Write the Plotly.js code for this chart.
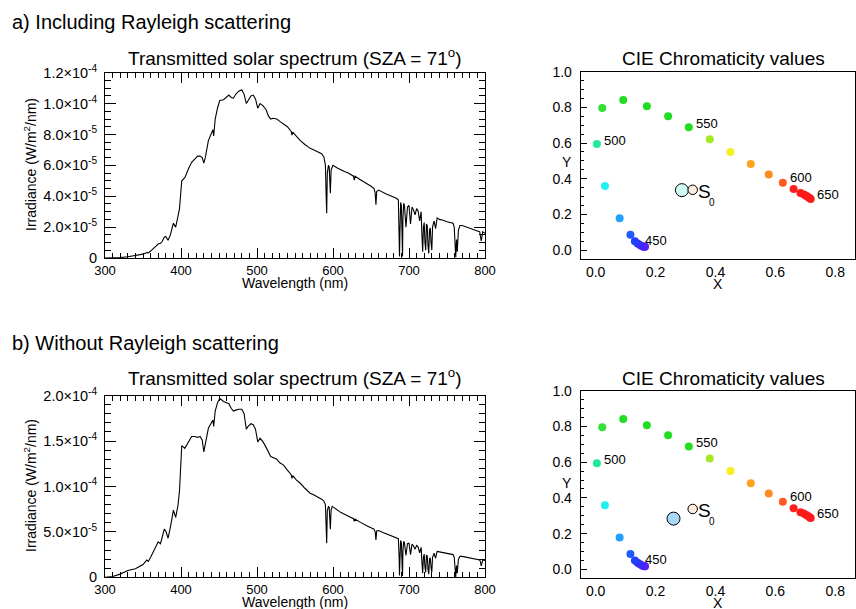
<!DOCTYPE html>
<html>
<head>
<meta charset="utf-8">
<script src="https://cdn.plot.ly/plotly-3.0.1.min.js"></script>
<style>html,body{margin:0;padding:0;background:#fff;}#plot{width:856px;height:609px;}</style>
</head>
<body>
<div id="plot"></div>
<script>
// ---- Spectrum data (irradiance in units of 1e-5 W/m2/nm) ----
const wavelength = [300,310,320,330,340,350,355,357,360,365,370,373,375,378,380,383,386,390,393,396,398,401,405,410,414,418,422,425,428,430,432,436,440,442,443,445,448,451,456,460,463,466,469,472,476,480,483,486,488,492,495,498,501,504,508,512,515,518,521,526,530,535,540,545,546,547,552,557,563,570,575,580,585,588,590,591,591.7,592.5,594,595,596.5,597.5,599,600,605,610,615,620,625,627,628,629,635,640,645,650,654,655.5,656.5,657.5,660,665,670,675,680,684,686,687,687.5,688,689,690,691,691.5,692,693,694,696,698,700,702,704,706,708,710,712,714,716,717,718,719,720,721,722,723,724,725,726,727,728,729,730,731,732,733,735,737,740,745,750,755,758,759.5,760.5,761.5,762.5,763.5,765,767,770,775,780,785,790,793,794,795,796,797,800];

const irrWithRayleigh = [0,0.01,0.03,0.08,0.15,0.25,0.35,0.33,0.45,0.7,0.9,0.95,1.05,1.35,1.4,1.15,1.5,2.25,2.0,2.7,3.2,5.0,5.2,5.8,6.2,6.4,6.6,6.6,6.5,6.15,6.5,7.6,8.1,8.3,7.9,9.0,9.7,10.2,10.25,10.45,10.55,10.4,10.35,10.6,10.8,10.9,10.6,10.0,10.2,10.5,10.55,10.3,9.7,10.0,9.85,9.6,9.2,9.0,9.05,9.0,8.85,8.7,8.5,8.2,7.95,8.15,7.85,7.6,7.35,7.1,7.0,6.9,6.75,6.55,6.0,4.0,2.9,5.5,6.0,5.9,4.2,5.7,6.0,6.0,5.85,5.7,5.6,5.5,5.35,5.3,5.05,5.3,5.1,4.95,4.85,4.65,4.5,4.2,3.45,4.3,4.4,4.25,4.15,4.05,3.95,3.85,3.75,2.0,0.1,1.5,3.6,3.4,1.0,0.1,2.5,3.55,3.4,2.0,3.3,3.4,2.2,3.3,3.1,2.8,3.2,3.05,2.4,3.0,1.5,0.4,2.0,2.3,1.0,0.5,2.2,2.1,0.8,0.3,1.8,1.95,1.0,0.5,2.0,2.3,2.4,1.9,2.6,2.5,2.45,2.35,2.3,2.25,2.0,0.5,0.05,1.2,0.4,1.8,2.1,2.1,2.0,1.9,1.85,1.75,1.7,1.5,1.1,1.4,1.7,1.6];

const irrWithoutRayleigh = [0,0.08,0.35,0.75,0.95,1.4,1.9,1.75,2.2,3.0,3.9,3.7,4.3,5.3,5.1,4.3,5.5,7.4,6.6,7.9,9.5,14.5,14.2,15.0,15.5,15.5,15.4,15.5,15.1,13.8,14.6,16.4,17.0,17.3,16.6,18.3,19.2,19.7,19.35,19.2,19.1,18.6,18.3,18.4,18.5,18.5,18.0,16.3,16.6,16.9,16.8,16.3,14.9,15.3,14.9,14.3,13.7,13.3,13.2,13.0,12.6,12.35,11.8,11.3,10.9,11.2,10.7,10.35,9.8,9.25,9.05,8.85,8.6,8.4,8.0,5.5,3.75,7.3,7.8,7.7,5.3,7.4,7.8,7.75,7.4,7.15,6.95,6.75,6.55,6.45,6.15,6.4,6.1,5.85,5.65,5.45,5.3,5.0,4.1,5.1,5.15,4.95,4.8,4.65,4.5,4.35,4.25,2.3,0.2,1.7,4.05,3.8,1.1,0.15,2.8,3.95,3.8,2.4,3.7,3.75,2.5,3.65,3.45,3.1,3.5,3.35,2.7,3.3,1.7,0.45,2.2,2.55,1.1,0.55,2.45,2.35,0.9,0.35,2.0,2.15,1.1,0.55,2.2,2.55,2.65,2.1,2.85,2.8,2.72,2.62,2.55,2.5,2.2,0.55,0.05,1.3,0.45,2.0,2.3,2.3,2.2,2.1,2.05,1.98,1.9,1.7,1.25,1.55,1.9,1.85];

// ---- Tick labels ----
const wlTicks = [300,400,500,600,700,800];
const irrTicksA = [0,2,4,6,8,10,12];
const irrTextA = ['0','2.0×10<sup>-5</sup>','4.0×10<sup>-5</sup>','6.0×10<sup>-5</sup>','8.0×10<sup>-5</sup>','1.0×10<sup>-4</sup>','1.2×10<sup>-4</sup>'];
const irrTicksB = [0,5,10,15,20];
const irrTextB = ['0','5.0×10<sup>-5</sup>','1.0×10<sup>-4</sup>','1.5×10<sup>-4</sup>','2.0×10<sup>-4</sup>'];
const chromTicks = [0,0.2,0.4,0.6,0.8,1.0];
const chromText = ['0.0','0.2','0.4','0.6','0.8','1.0'];

// ---- Chromaticity of spectral locus ----
const locusX = [0.165,0.163,0.160,0.155,0.148,0.140,0.131,0.116,0.080,0.031,0.004,0.022,0.092,0.171,0.242,0.311,0.381,0.450,0.518,0.578,0.625,0.661,0.684,0.695,0.703,0.709,0.714,0.718];
const locusY = [0.018,0.018,0.019,0.022,0.028,0.037,0.050,0.086,0.178,0.359,0.594,0.796,0.841,0.807,0.750,0.688,0.621,0.550,0.482,0.424,0.378,0.342,0.320,0.312,0.304,0.298,0.292,0.287];
const locusColor = ['#6a1cf0','#6020f5','#5522f8','#4a25fb','#3f2afd','#3330ff','#2440ff','#1f5cff','#22a0ff','#22f0f0','#22e89a','#33e033','#22dd22','#22dd22','#22dd22','#22dd22','#a6e822','#f5ef1f','#ffa21f','#ff8a1f','#ff5a1f','#ff1f1f','#ff1a1a','#ff1a1a','#ff1a1a','#ff1a1a','#ff1a1a','#ff1a1a'];
const locusLabels = ['450','500','550','600','650'];
const labelX = [0.159,0.020,0.328,0.642,0.732];
const labelY = [0.054,0.615,0.710,0.406,0.310];

const sampleA = {x:0.288, y:0.336, color:'#ccfcf4'};
const sampleB = {x:0.260, y:0.284, color:'#a8d8f8'};
const sourceS0 = {x:0.324, y:0.338, color:'#fcebe0'};

const FONT = 'Liberation Sans, Arial, Helvetica, sans-serif';
const W = 856, H = 609;
const px = v => v / W;
const py = v => 1 - v / H;

function specX(dom, anchor) {
  return {domain: dom, anchor: anchor, range: [300,800], tickmode:'array', tickvals: wlTicks,
    ticks:'inside', ticklen:10, tickwidth:1, tickcolor:'#000',
    minor:{dtick:10, tick0:300, ticks:'inside', ticklen:5, tickwidth:1, tickcolor:'#000'},
    showline:true, linecolor:'#000', linewidth:1, mirror:'ticks', showgrid:false, zeroline:false,
    tickfont:{family:FONT, size:13, color:'#000'}};
}
function specY(dom, anchor, tv, tt, mdt, rng) {
  return {domain: dom, anchor: anchor, range: rng, tickmode:'array', tickvals: tv, ticktext: tt,
    ticks:'inside', ticklen:11, tickwidth:1, tickcolor:'#000', ticklabelstandoff:4,
    minor:{dtick:mdt, tick0:0, ticks:'inside', ticklen:6, tickwidth:1, tickcolor:'#000'},
    showline:true, linecolor:'#000', linewidth:1, mirror:'ticks', showgrid:false, zeroline:false,
    tickfont:{family:FONT, size:14.5, color:'#000'}};
}
function chrX(dom, anchor) {
  return {domain: dom, anchor: anchor, range: [-0.05, 0.866], tickmode:'array', tickvals:[0,0.2,0.4,0.6,0.8], ticktext:['0.0','0.2','0.4','0.6','0.8'],
    ticks:'', showline:true, linecolor:'#000', linewidth:1, mirror:true, showgrid:false, zeroline:false,
    tickfont:{family:FONT, size:14, color:'#000'}};
}
function chrY(dom, anchor) {
  return {domain: dom, anchor: anchor, range: [-0.05, 1.0], tickmode:'array', tickvals: chromTicks, ticktext: chromText,
    ticks:'inside', ticklen:6, tickwidth:1, tickcolor:'#000', ticklabelstandoff:5,
    minor:{dtick:0.05, tick0:0, ticks:'inside', ticklen:3.5, tickwidth:1, tickcolor:'#000'},
    showline:true, linecolor:'#000', linewidth:1, mirror:true, showgrid:false, zeroline:false,
    tickfont:{family:FONT, size:14, color:'#000'}};
}

const specXdom = [px(105), px(485)];
const chrXdom = [px(580.7), px(855)];

const traces = [
  {x: wavelength, y: irrWithRayleigh, xaxis:'x', yaxis:'y', mode:'lines', line:{color:'#000', width:1.1}, hoverinfo:'skip'},
  {x: wavelength, y: irrWithoutRayleigh, xaxis:'x3', yaxis:'y3', mode:'lines', line:{color:'#000', width:1.1}, hoverinfo:'skip'}
];
[['x2','y2',sampleA],['x4','y4',sampleB]].forEach(([xa,ya,s]) => {
  traces.push({x: locusX, y: locusY, xaxis:xa, yaxis:ya, mode:'markers', marker:{size:8, color: locusColor, line:{width:0}}, hoverinfo:'skip'});
  traces.push({x:[s.x], y:[s.y], xaxis:xa, yaxis:ya, mode:'markers', marker:{size:13, color:s.color, line:{width:1, color:'#000'}}, hoverinfo:'skip'});
  traces.push({x:[sourceS0.x], y:[sourceS0.y], xaxis:xa, yaxis:ya, mode:'markers', marker:{size:9.5, color:sourceS0.color, line:{width:1, color:'#000'}}, hoverinfo:'skip'});
});

const ann = [];
function txt(x, y, text, size, opts) {
  ann.push(Object.assign({xref:'paper', yref:'paper', x:px(x), y:py(y), text:text, showarrow:false,
    font:{family:FONT, size:size, color:'#000'}, xanchor:'center', yanchor:'middle'}, opts||{}));
}
txt(10, 22, 'a) Including Rayleigh scattering', 20, {xanchor:'left'});
txt(10, 343, 'b) Without Rayleigh scattering', 20, {xanchor:'left'});
txt(295, 57, 'Transmitted solar spectrum (SZA = 71<sup>o</sup>)', 19);
txt(295, 377, 'Transmitted solar spectrum (SZA = 71<sup>o</sup>)', 19);
txt(723, 58, 'CIE Chromaticity values', 19);
txt(723, 378, 'CIE Chromaticity values', 19);
txt(295, 283, 'Wavelength (nm)', 14);
txt(295, 602, 'Wavelength (nm)', 14);
txt(30, 165, 'Irradiance (W/m<sup>2</sup>/nm)', 14, {textangle:-90});
txt(30, 486, 'Irradiance (W/m<sup>2</sup>/nm)', 14, {textangle:-90});
txt(718, 284, 'X', 14);
txt(718, 603, 'X', 14);
txt(567, 162, 'Y', 14);
txt(567, 483, 'Y', 14);

[['x2','y2'],['x4','y4']].forEach(([xa,ya]) => {
  locusLabels.forEach((t,i) => ann.push({xref:xa, yref:ya, x:labelX[i], y:labelY[i], text:t, showarrow:false,
    xanchor:'left', yanchor:'middle', font:{family:FONT, size:13, color:'#000'}}));
  ann.push({xref:xa, yref:ya, x:0.364, y:0.328, text:'S', showarrow:false, xanchor:'center', yanchor:'middle', font:{family:FONT, size:19, color:'#000'}});
  ann.push({xref:xa, yref:ya, x:0.390, y:0.266, text:'0', showarrow:false, xanchor:'center', yanchor:'middle', font:{family:FONT, size:10, color:'#000'}});
});

const layout = {
  width: W, height: H, margin:{l:0, r:0, t:0, b:0}, showlegend:false,
  paper_bgcolor:'#fff', plot_bgcolor:'#fff', font:{family:FONT, color:'#000'},
  xaxis: specX(specXdom, 'y'),
  yaxis: specY([py(258), py(72.7)], 'x', irrTicksA, irrTextA, 0.5, [0,12]),
  xaxis2: chrX(chrXdom, 'y2'),
  yaxis2: chrY([py(259), py(71.7)], 'x2'),
  xaxis3: specX(specXdom, 'y3'),
  yaxis3: specY([py(577.3), py(395.6)], 'x3', irrTicksB, irrTextB, 1, [0,20]),
  xaxis4: chrX(chrXdom, 'y4'),
  yaxis4: chrY([py(578.3), py(390.7)], 'x4'),
  annotations: ann
};

Plotly.newPlot('plot', traces, layout, {staticPlot:true, displayModeBar:false});
</script>
</body>
</html>
